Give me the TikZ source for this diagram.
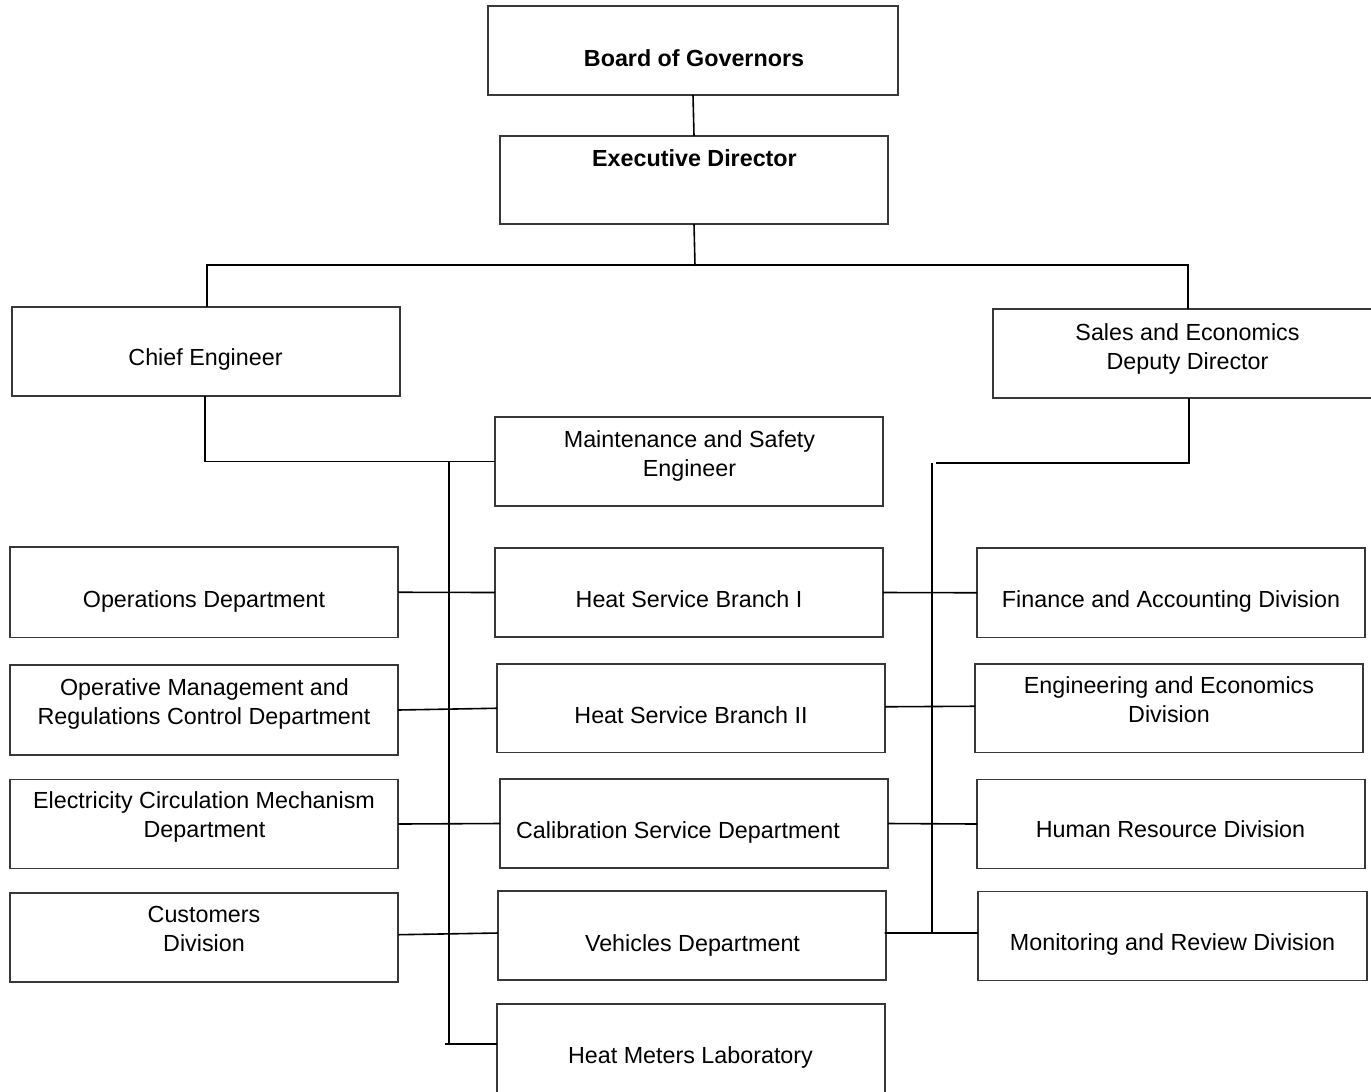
\documentclass[tikz,border=0pt]{standalone}
\usepackage{fontspec}
\setmainfont{Liberation Sans}
\begin{document}
\begin{tikzpicture}[x=1bp,y=-1bp,
  box/.style={draw=black!78, line width=1.4bp, fill=none, inner sep=0pt, outer sep=0pt},
  lbl/.style={anchor=base, inner sep=0pt, font=\fontsize{23.3bp}{29bp}\selectfont},
  conn/.style={draw=black, line width=1.6bp}]
\newcommand\mkbox[5]{\node[box, minimum width={(#4-#2)*1bp}, minimum height={(#5-#3)*1bp}] (#1) at ({(#2+#4)/2},{(#3+#5)/2}) {};}
\fill[white] (0,0) rectangle (1371,1091);
\useasboundingbox (0,0) rectangle (1371,1091);
% boxes
\mkbox{board}{488}{6}{898}{95}
\mkbox{exec}{500}{136}{888}{224}
\mkbox{chief}{12}{307}{400}{396}
\mkbox{sales}{993}{309}{1382}{398}
\mkbox{maint}{495}{417}{883}{506}
\mkbox{ops}{10}{547}{398}{637.5}
\mkbox{hsb1}{495}{548}{883}{637}
\mkbox{fin}{977}{548}{1365}{637.5}
\mkbox{om}{10}{665}{398}{755}
\mkbox{hsb2}{497}{664}{885}{752.5}
\mkbox{eed}{975}{664}{1363}{752.5}
\mkbox{ecm}{10}{779.5}{398}{868.5}
\mkbox{cal}{500}{779}{888}{868}
\mkbox{hr}{977}{779.5}{1365}{868.5}
\mkbox{cust}{10}{893}{398}{982}
\mkbox{veh}{498}{891}{886}{980}
\mkbox{mr}{978}{891.5}{1367}{980.5}
\mkbox{hml}{497}{1004}{885}{1093}
% texts
\node[lbl] (t-board) at (694,66) {\bfseries Board of Governors};
\node[lbl] (t-exec) at (694.5,166) {\bfseries Executive Director};
\node[lbl] (t-chief) at (205.5,365.5) {Chief Engineer};
\node[lbl] (t-sales1) at (1187.5,340) {Sales and Economics};
\node[lbl] (t-sales2) at (1187.5,369) {Deputy Director};
\node[lbl] (t-maint1) at (689.5,447) {Maintenance and Safety};
\node[lbl] (t-maint2) at (689.5,476) {Engineer};
\node[lbl] (t-ops) at (204,607.5) {Operations Department};
\node[lbl] (t-hsb1) at (689,607.5) {Heat Service Branch I};
\node[lbl] (t-fin) at (1171,607) {Finance and Accounting Division};
\node[lbl] (t-om1) at (204.5,695) {Operative Management and};
\node[lbl] (t-om2) at (204,724) {Regulations Control Department};
\node[lbl] (t-hsb2) at (691,723) {Heat Service Branch II};
\node[lbl] (t-eed1) at (1169,693.5) {Engineering and Economics};
\node[lbl] (t-eed2) at (1169,722.5) {Division};
\node[lbl] (t-ecm1) at (204,808.5) {Electricity Circulation Mechanism};
\node[lbl] (t-ecm2) at (204.5,837.5) {Department};
\node[lbl] (t-cal) at (678,838) {Calibration Service Department};
\node[lbl] (t-hr) at (1170.5,837.5) {Human Resource Division};
\node[lbl] (t-cust1) at (204,922.5) {Customers};
\node[lbl] (t-cust2) at (204,951.5) {Division};
\node[lbl] (t-veh) at (692.5,951) {Vehicles Department};
\node[lbl] (t-mr) at (1172.5,950) {Monitoring and Review Division};
\node[lbl] (t-hml) at (690.5,1063) {Heat Meters Laboratory};
% bus coordinates
\coordinate (top-bus) at (695,265);
\coordinate (lbt) at (449,462);
\coordinate (lbb) at (449,1044);
\coordinate (rbt) at (932,463);
\coordinate (rbb) at (932,933);
% connectors
\draw[conn] (board.south) -- (exec.north);
\draw[conn] (exec.south) -- ([yshift=-1]top-bus);
\draw[conn] ([xshift=1]chief.north) |- (top-bus) -| ([xshift=0.5]sales.north);
\draw[conn] ([xshift=-1]chief.south) |- (maint.west);
\draw[conn] (lbt) -- (lbb);
\draw[conn] ([xshift=-4]lbb) -- (hml.west |- lbb);
\draw[conn] (ops.east) -- (hsb1.west);
\draw[conn] (om.east) -- (hsb2.west);
\draw[conn] (ecm.east) -- (cal.west);
\draw[conn] ([yshift=2.8]cust.east) -- ([yshift=2.5]veh.west);
\draw[conn] ([xshift=1.5]sales.south) |- ([xshift=4]rbt);
\draw[conn] (rbt) -- (rbb);
\draw[conn] (hsb1.east) -- (fin.west);
\draw[conn] ([yshift=1.5]hsb2.east) -- ([yshift=2]eed.west);
\draw[conn] (cal.east) -- (hr.west);
\draw[conn] ([xshift=-1.5,yshift=2.5]veh.east) -- ([yshift=3]mr.west);
\end{tikzpicture}
\end{document}
